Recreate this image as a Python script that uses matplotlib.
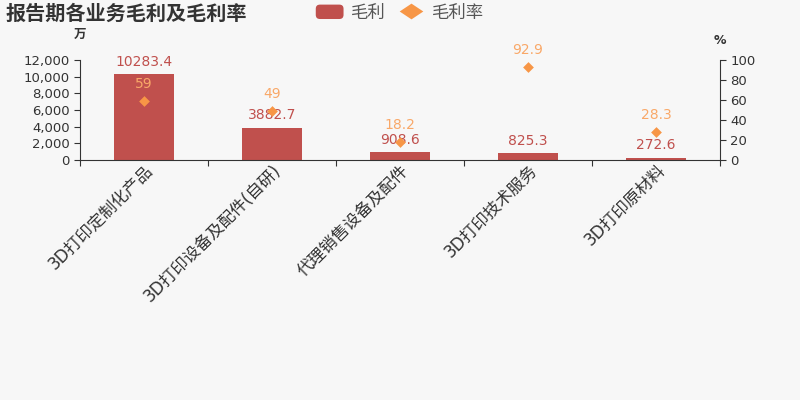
import matplotlib
matplotlib.use('Agg')
import matplotlib.pyplot as plt
import numpy as np
from matplotlib.lines import Line2D
from matplotlib.patches import FancyBboxPatch, Rectangle
from matplotlib.legend_handler import HandlerPatch

plt.rcParams['font.family'] = ['DejaVu Sans', 'Noto Sans CJK SC']

categories = ['3D打印定制化产品', '3D打印设备及配件(自研)', '代理销售设备及配件', '3D打印技术服务', '3D打印原材料']
gross_profit = [10283.4, 3882.7, 908.6, 825.3, 272.6]
gross_margin = [59, 49, 18.2, 92.9, 28.3]
profit_labels = ['10283.4', '3882.7', '908.6', '825.3', '272.6']
margin_labels = ['59', '49', '18.2', '92.9', '28.3']

bar_color = '#c0504d'
marker_color = '#f79646'
bg = '#f7f7f7'
text_color = '#333333'

fig = plt.figure(figsize=(8, 4), dpi=100, facecolor=bg)
ax = fig.add_axes([0.1, 0.6, 0.8, 0.25])
ax.set_facecolor(bg)
ax2 = ax.twinx()

x = np.arange(len(categories))
ax.bar(x, gross_profit, width=0.47, color=bar_color, zorder=2)
ax.set_xlim(-0.5, len(categories) - 0.5)
ax.set_ylim(0, 12000)
ax.set_yticks(range(0, 12001, 2000))
ax.set_yticklabels(['{:,}'.format(v) for v in range(0, 12001, 2000)])

diamond = [(-1.5, 0), (0, 1), (1.5, 0), (0, -1), (-1.5, 0)]
ax2.scatter(x, gross_margin, marker='D', s=30, color=marker_color, zorder=3, linewidths=0)
ax2.set_ylim(0, 100)
ax2.set_yticks(range(0, 101, 20))

for xi, v, lab in zip(x, gross_profit, profit_labels):
    ax.annotate(lab, (xi, v), xytext=(0, 4), textcoords='offset points',
                ha='center', va='bottom', color=bar_color, fontsize=10)
for xi, v, lab in zip(x, gross_margin, margin_labels):
    ax2.annotate(lab, (xi, v), xytext=(0, 7), textcoords='offset points',
                 ha='center', va='bottom', color='#f9a868', fontsize=10)

for a in (ax, ax2):
    a.spines['top'].set_visible(False)
    a.tick_params(colors=text_color, labelsize=9.5, length=4)
    for s in a.spines.values():
        s.set_color(text_color)
ax.spines['right'].set_visible(False)
ax2.spines['left'].set_visible(False)
ax2.spines['bottom'].set_visible(False)

ax.set_xticks(np.arange(-0.5, len(categories), 1), minor=False)
ax.set_xticklabels([])
ax.set_xticks(x, minor=True)
ax.set_xticklabels(categories, minor=True, rotation=45, ha='right',
                   rotation_mode='anchor', fontsize=12, color=text_color)
ax.tick_params(axis='x', which='minor', length=0, pad=1)

fig.text(0.1, 0.905, '万', fontsize=9, color=text_color, ha='center', fontweight='bold')
fig.text(0.9, 0.89, '%', fontsize=9, color=text_color, ha='center', fontweight='bold')

fig.text(0.007, 0.965, '报告期各业务毛利及毛利率', fontsize=14.5, fontweight='bold',
         color=text_color, va='center')


class RoundBox(HandlerPatch):
    def create_artists(self, legend, orig, xd, yd, w, h, fontsize, trans):
        p = FancyBboxPatch((-xd, -yd), w, h, boxstyle='round,pad=0,rounding_size=3',
                           facecolor=bar_color, edgecolor='none', transform=trans)
        return [p]


handles = [Rectangle((0, 0), 1, 1, color=bar_color, label='毛利'),
           Line2D([], [], marker=diamond, color=marker_color, linestyle='None', markersize=17,
                  markeredgewidth=0, label='毛利率')]
fig.legend(handles=handles, loc='center', bbox_to_anchor=(0.5, 0.968), ncol=2, frameon=False,
           fontsize=12.5, handlelength=1.6, handleheight=0.9, handletextpad=0.4, columnspacing=0.7,
           labelcolor='#555555', handler_map={Rectangle: RoundBox()})

fig.savefig('out.png', facecolor=bg)
